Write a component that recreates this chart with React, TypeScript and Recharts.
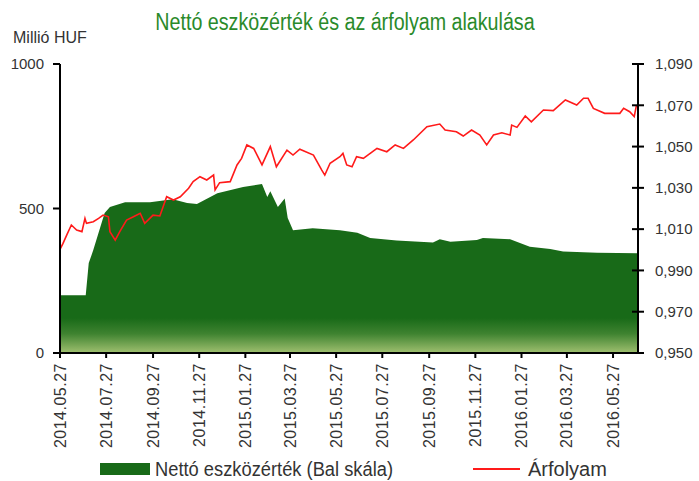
import React from "react";
import { ComposedChart, Area, Line, XAxis, YAxis } from "recharts";

// nettó eszközérték (millió HUF), napokban 2014.05.27-től
const navDays = [0, 34, 38, 44, 59, 66, 86, 119, 149, 168, 181, 208, 242, 267, 274, 278, 288, 297, 301, 308, 334, 370, 393, 410, 445, 493, 502, 516, 551, 559, 595, 621, 648, 665, 710, 764];
const navValues = [200, 200, 311, 356, 484, 505, 522, 522, 532, 519, 516, 553, 574, 585, 540, 560, 505, 535, 467, 425, 432, 425, 416, 398, 389, 382, 394, 385, 391, 398, 394, 368, 360, 351, 347, 345];

// árfolyam
const rateDays = [
  0, 4, 9, 15, 22, 29, 33, 35, 44, 51,
  57, 64, 66, 73, 79, 88, 97, 106, 112, 123,
  132, 141, 150, 159, 170, 176, 185, 194, 203, 205,
  211, 225, 234, 240, 247, 256, 267, 278, 286, 300,
  308, 317, 335, 346, 350, 357, 370, 374, 379, 386,
  392, 401, 419, 432, 443, 454, 467, 485, 502, 509,
  524, 533, 544, 555, 564, 573, 584, 595, 597, 604,
  615, 623, 639, 652, 668, 683, 692, 698, 705, 720,
  740, 745, 753, 759, 762,
];
const rateValues = [
  1.0002, 1.0031, 1.0072, 1.012, 1.0096, 1.0088, 1.0152, 1.0128, 1.0136, 1.0152,
  1.0168, 1.016, 1.0088, 1.0047, 1.0088, 1.0144, 1.016, 1.0177, 1.0128, 1.0168,
  1.0164, 1.0257, 1.0241, 1.0257, 1.0298, 1.033, 1.0354, 1.0338, 1.0362, 1.029,
  1.0325, 1.033, 1.0411, 1.0443, 1.0508, 1.0491, 1.0411, 1.05, 1.0402, 1.0483,
  1.0459, 1.0487, 1.0459, 1.0386, 1.0362, 1.0419, 1.0451, 1.0467, 1.0411, 1.0402,
  1.0451, 1.0443, 1.0491, 1.0475, 1.0508, 1.0491, 1.0532, 1.0596, 1.0609, 1.058,
  1.0572, 1.0551, 1.058, 1.0556, 1.0508, 1.0556, 1.0567, 1.0556, 1.0604, 1.0593,
  1.0648, 1.062, 1.0677, 1.0674, 1.0726, 1.0701, 1.0734, 1.0734, 1.0685, 1.0661,
  1.0661, 1.0685, 1.0669, 1.0645, 1.0701,
];

const tickDays = [0, 61, 123, 184, 245, 304, 365, 426, 488, 549, 610, 670, 731];
const tickLabels = [
  "2014.05.27", "2014.07.27", "2014.09.27", "2014.11.27", "2015.01.27", "2015.03.27",
  "2015.05.27", "2015.07.27", "2015.09.27", "2015.11.27", "2016.01.27", "2016.03.27", "2016.05.27",
];
const leftTicks = [0, 500, 1000];
const rightTicks = [0.95, 0.97, 0.99, 1.01, 1.03, 1.05, 1.07, 1.09];

const rows = (() => {
  const m = new Map<number, { day: number; nav?: number; rate?: number }>();
  navDays.forEach((d, i) => m.set(d, { ...(m.get(d) || { day: d }), nav: navValues[i] }));
  rateDays.forEach((d, i) => m.set(d, { ...(m.get(d) || { day: d }), rate: rateValues[i] }));
  return [...m.values()].sort((a, b) => a.day - b.day);
})();

const FONT = "'Liberation Sans', Arial, sans-serif";

const XTick = (props: any) => {
  const { x, y, payload } = props;
  const i = tickDays.indexOf(payload.value);
  return (
    <text x={x} y={y} transform={`rotate(-90, ${x}, ${y})`} textAnchor="end" dy="0.35em"
      fontSize={16} letterSpacing={0.5} fill="#333" fontFamily={FONT}>
      {tickLabels[i]}
    </text>
  );
};

const RightTick = (props: any) => {
  const { x, y, payload } = props;
  const ax = x - 17;
  return (
    <g>
      <line x1={ax - 6} x2={ax + 6} y1={y} y2={y} stroke="#000" strokeWidth={2} />
      <text x={x} y={y} dy="0.35em" textAnchor="start" fontSize={15} fill="#333" fontFamily={FONT}>
        {payload.value.toFixed(3).replace(".", ",")}
      </text>
    </g>
  );
};

export default function App() {
  return (
    <div style={{ position: "absolute", left: 0, top: 0, width: 699, height: 481, background: "#fff" }}>
      <div style={{ position: "absolute", left: 0, top: 11, width: 690, textAlign: "center", fontFamily: FONT, fontSize: 23, lineHeight: "23px", color: "#2a8a2a", transform: "scaleX(0.855)", transformOrigin: "345px 0", whiteSpace: "nowrap" }}>
        Nettó eszközérték és az árfolyam alakulása
      </div>
      <div style={{ position: "absolute", left: 13, top: 30, fontFamily: FONT, fontSize: 16, lineHeight: "16px", color: "#333" }}>
        Millió HUF
      </div>
      <ComposedChart width={699} height={481} data={rows} margin={{ top: 64, right: 0, bottom: 0, left: 0 }}>
        <defs>
          <linearGradient id="navFill" gradientUnits="userSpaceOnUse" x1="0" y1="318" x2="0" y2="353">
            <stop offset="0" stopColor="#186a18" />
            <stop offset="0.45" stopColor="#3f8330" />
            <stop offset="1" stopColor="#a0c070" />
          </linearGradient>
        </defs>
        <XAxis dataKey="day" type="number" domain={[0, 764]} ticks={tickDays} interval={0}
          height={128} tickSize={5} tickMargin={5} tick={<XTick />}
          axisLine={{ stroke: "#000", strokeWidth: 2 }} tickLine={{ stroke: "#000", strokeWidth: 2 }} />
        <YAxis yAxisId="left" domain={[0, 1000]} ticks={leftTicks} width={60} tickSize={7} tickMargin={9}
          tick={{ fontSize: 15, fill: "#333", fontFamily: FONT }}
          axisLine={{ stroke: "#000", strokeWidth: 2 }} tickLine={{ stroke: "#000", strokeWidth: 2 }} />
        <YAxis yAxisId="right" orientation="right" domain={[0.95, 1.09]} ticks={rightTicks} width={61}
          tickSize={6} tickMargin={11} tick={<RightTick />} tickLine={false}
          axisLine={{ stroke: "#000", strokeWidth: 2 }} />
        <Area yAxisId="left" dataKey="nav" type="linear" stroke="none" fill="url(#navFill)" fillOpacity={1}
          connectNulls isAnimationActive={false} />
        <Line yAxisId="right" dataKey="rate" type="linear" stroke="#ff1a1a" strokeWidth={1.6} dot={false}
          connectNulls isAnimationActive={false} />
      </ComposedChart>
      <div style={{ position: "absolute", left: 100, top: 463, width: 50, height: 12, background: "#186a18" }} />
      <div style={{ position: "absolute", left: 155, top: 459, fontFamily: FONT, fontSize: 20, lineHeight: "20px", color: "#333", transform: "scaleX(0.915)", transformOrigin: "0 0", whiteSpace: "nowrap" }}>
        Nettó eszközérték (Bal skála)
      </div>
      <div style={{ position: "absolute", left: 473, top: 468, width: 47, height: 2, background: "#ff1a1a" }} />
      <div style={{ position: "absolute", left: 528, top: 459, fontFamily: FONT, fontSize: 20, lineHeight: "20px", color: "#333", whiteSpace: "nowrap" }}>
        Árfolyam
      </div>
    </div>
  );
}
